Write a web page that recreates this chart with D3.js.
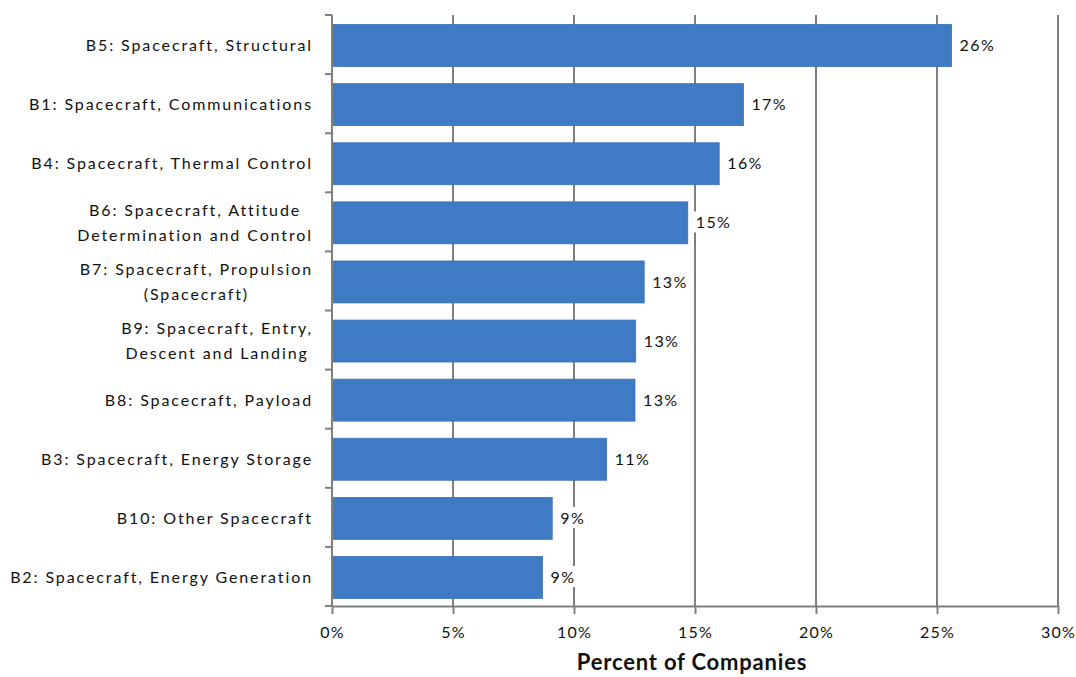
<!DOCTYPE html>
<html><head><meta charset="utf-8">
<script src="https://cdn.jsdelivr.net/npm/d3@7"></script>
<style>
body{margin:0;background:#fff;}
svg{display:block;}
text{font-family:Lato,"Open Sans",sans-serif;fill:#111;}
</style></head>
<body><svg id="chart" width="1076" height="677"></svg>
<script>
const categories = [
  "B5: Spacecraft, Structural",
  "B1: Spacecraft, Communications",
  "B4: Spacecraft, Thermal Control",
  "B6: Spacecraft, Attitude\nDetermination and Control",
  "B7: Spacecraft, Propulsion\n(Spacecraft)",
  "B9: Spacecraft, Entry,\nDescent and Landing",
  "B8: Spacecraft, Payload",
  "B3: Spacecraft, Energy Storage",
  "B10: Other Spacecraft",
  "B2: Spacecraft, Energy Generation"
];
const values = [25.6, 17.0, 16.0, 14.7, 12.9, 12.55, 12.52, 11.35, 9.1, 8.7];
const xTicks = [0, 5, 10, 15, 20, 25, 30];
const axisTitle = "Percent of Companies";

const svg = d3.select("#chart");
const m = {left: 332, right: 1058, top: 15, bottom: 606};
const x = d3.scaleLinear().domain([0, 30]).range([m.left, m.right]);
const y = d3.scaleBand().domain(categories).range([m.top, m.bottom]).paddingInner(0.29).paddingOuter(0.145);
const band = d3.scaleBand().domain(categories).range([m.top, m.bottom]);

const gridColor = "#7f7f7f";
const fs = 16, ls = 1.9;

// gridlines
svg.append("g").selectAll("line").data(xTicks.slice(1)).join("line")
  .attr("x1", d => x(d)).attr("x2", d => x(d))
  .attr("y1", m.top).attr("y2", m.bottom)
  .attr("stroke", gridColor).attr("stroke-width", 2);

// bars
svg.append("g").selectAll("rect").data(values).join("rect")
  .attr("x", x(0))
  .attr("y", (d, i) => y(categories[i]) + 1)
  .attr("width", d => x(d) - x(0))
  .attr("height", y.bandwidth())
  .attr("fill", "#3f7bc5")
  .attr("stroke", "#3a70b4").attr("stroke-width", 0.8);

// value labels with white background
const vl = svg.append("g").selectAll("g").data(values).join("g")
  .attr("transform", (d, i) => `translate(${x(d) + 8},${y(categories[i]) + 1 + y.bandwidth() / 2})`);
vl.each(function(d) {
  const g = d3.select(this);
  const t = g.append("text").text(Math.round(d) + "%")
    .attr("dy", "0.35em").attr("font-size", fs).attr("letter-spacing", 1.4).attr("fill", "#000");
  const bb = t.node().getBBox();
  g.insert("rect", "text").attr("x", bb.x - 3).attr("y", bb.y - 1)
    .attr("width", bb.width + 6).attr("height", bb.height + 2).attr("fill", "#fff");
});

// x axis
const xAxis = d3.axisBottom(x).tickValues(xTicks).tickFormat(d => d + "%").tickSize(8).tickSizeOuter(0);
const gx = svg.append("g").attr("transform", `translate(0,${m.bottom})`).call(xAxis);
gx.select(".domain").attr("stroke", gridColor).attr("stroke-width", 2);
gx.selectAll(".tick line").attr("stroke", gridColor).attr("stroke-width", 2);
gx.selectAll(".tick text").attr("font-family", "Lato,'Open Sans',sans-serif")
  .attr("font-size", fs).attr("letter-spacing", 1.2).attr("fill", "#000").attr("dy", "1.3em");

// left axis
svg.append("line").attr("x1", m.left).attr("x2", m.left).attr("y1", m.top).attr("y2", m.bottom)
  .attr("stroke", gridColor).attr("stroke-width", 2);
const bounds = categories.map(c => band(c)).concat([m.bottom]);
svg.append("g").selectAll("line").data(bounds).join("line")
  .attr("x1", m.left - 7).attr("x2", m.left).attr("y1", d => d).attr("y2", d => d)
  .attr("stroke", gridColor).attr("stroke-width", 2);

// category labels
const labelRight = 313;
categories.forEach((c, i) => {
  const lines = c.split("\n");
  const cy = y(c) + 1 + y.bandwidth() / 2;
  const g = svg.append("g");
  const lh = 25;
  const ts = lines.map((ln, j) => g.append("text").text(ln)
    .attr("font-size", fs).attr("letter-spacing", ls).attr("fill", "#000")
    .attr("y", cy + (j - (lines.length - 1) / 2) * lh).attr("dy", "0.35em"));
  const widths = ts.map(t => t.node().getComputedTextLength());
  const maxW = d3.max(widths);
  ts.forEach(t => t.attr("x", labelRight - maxW / 2).attr("text-anchor", "middle"));
});

// axis title
svg.append("text").text(axisTitle).attr("x", 692).attr("y", 670)
  .attr("text-anchor", "middle").attr("font-size", 22).attr("letter-spacing", 0.8)
  .attr("font-weight", "bold").attr("fill", "#000");
</script></body></html>
